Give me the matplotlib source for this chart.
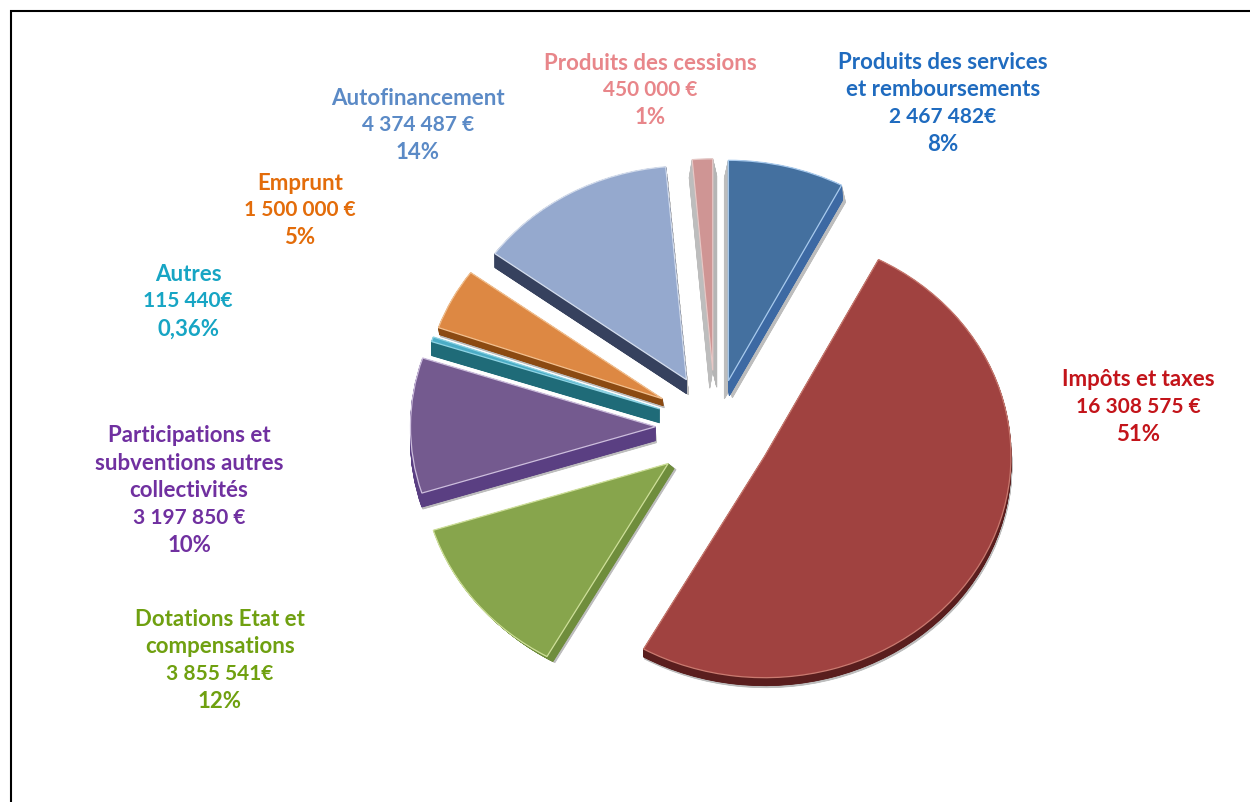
import matplotlib
matplotlib.use("Agg")
import matplotlib.pyplot as plt
from matplotlib.patches import Wedge

# Budget revenue breakdown, clockwise from twelve o'clock
categories = [
    ["Produits des services", "et remboursements"],
    ["Impôts et taxes"],
    ["Dotations Etat et", "compensations"],
    ["Participations et", "subventions autres", "collectivités"],
    ["Autres"],
    ["Emprunt"],
    ["Autofinancement"],
    ["Produits des cessions"],
]
values = [2467482, 16308575, 3855541, 3197850, 115440, 1500000, 4374487, 450000]
amount_labels = ["2 467 482€", "16 308 575 €", "3 855 541€", "3 197 850 €",
                 "115 440€", "1 500 000 €", "4 374 487 €", "450 000 €"]
percent_labels = ["8%", "51%", "12%", "10%", "0,36%", "5%", "14%", "1%"]

# Slice styling
face_colors = ["#44709F", "#A04240", "#87A54C", "#745A8F", "#4BACC6", "#DD8843", "#95A9CE", "#CF9594"]
edge_colors = ["#A9CBEE", "#C97A70", "#CFE09A", "#CDBEDD", "#8FD4E4", "#F3C08F", "#D5DEEE", "#E6C8C6"]
side_colors = ["#3D69A3", "#5A1E1E", "#6F8D3C", "#5A3F82", "#1F6B78", "#8B4A12", "#36415E", "#B5B5B5"]
text_colors = ["#1F6BBF", "#C3141A", "#6FA010", "#7030A0", "#17A5C4", "#E36C0A", "#5B8AC6", "#E8868A"]
pull_out = [54, 56, 61, 60, 59, 60, 59, 63]
lift = [4, 0, 3, 5, 6, 8, 6, 5]   # perspective raises the far slices by a few pixels
radius_scale = [0.98, 0.985, 0.985, 0.98, 0.96, 0.95, 0.95, 0.94]
side_offsets = [(1, 15), (0, 8), (6, 5), (0, 14), (0, 14), (1, 7), (0, 14), (4, 17)]
shadow_offsets = [[(-4, 18), (4, 17)], [(1, 10)], [(8, 6)], [(1, 16)], [], [(2, 9)], [(2, 15)], [(-3, 18)]]
stack_order = [6, 7, 2, 5, 4, 3, 1, 0]

# Label anchors: centre x and first-line y, in pixels from the top-left
label_x = [943, 1138, 220, 189, 188, 300, 418, 650]
label_y = [62, 380, 619, 436, 274, 183, 98, 63]
LINE_STEP = 27.4

WIDTH, HEIGHT = 1250, 803
SQUASH = 0.9           # vertical foreshortening of the disc
RADIUS = 250
PIE_X, PIE_Y = 715.5, 433


def to_y(py):
    return (HEIGHT - py) / SQUASH


fig = plt.figure(figsize=(WIDTH / 100, HEIGHT / 100), dpi=100, facecolor="white")
ax = fig.add_axes([0, 0, 1, 1])

wedges, _ = ax.pie(values, explode=pull_out, radius=RADIUS, center=(PIE_X, to_y(PIE_Y)),
                   startangle=90, counterclock=False, colors=face_colors)

for rank, i in enumerate(stack_order):
    w = wedges[i]
    w.set_radius(RADIUS * radius_scale[i])
    w.set_center((w.center[0], w.center[1] + lift[i] / SQUASH))
    w.set_edgecolor(edge_colors[i])
    w.set_linewidth(0.9)
    base = 10 + rank * 3
    w.set_zorder(base + 2)
    cx, cy = w.center

    def stacked(dx, dy, color, z):
        # Extrude the slice by stacking finely spaced copies of it
        steps = 3 * int(max(abs(dx), abs(dy), 1))
        for k in range(1, steps + 1):
            ax.add_patch(Wedge((cx + dx * k / steps, cy - dy * k / steps / SQUASH),
                               w.r, w.theta1, w.theta2,
                               facecolor=color, edgecolor=color, linewidth=0.6, zorder=z))

    for dx, dy in shadow_offsets[i]:
        stacked(dx, dy, "#BDBDBD", base)
    stacked(*side_offsets[i], side_colors[i], base + 1)

# Open frame: left and top rules run off the canvas
ax.plot([11, 11, WIDTH], [to_y(HEIGHT), to_y(12), to_y(12)], color="black", lw=1.5,
        solid_joinstyle="miter", zorder=50)

for i in range(len(values)):
    lines = categories[i] + [amount_labels[i], percent_labels[i]]
    for n, line in enumerate(lines):
        size = 15 if line == amount_labels[i] else 16
        ax.text(label_x[i], to_y(label_y[i] + n * LINE_STEP), line, ha="center", va="center",
                color=text_colors[i], fontsize=size, fontweight="bold", family="Lato", zorder=60)

ax.set_aspect("auto")
ax.set_xlim(0, WIDTH)
ax.set_ylim(0, HEIGHT / SQUASH)
ax.axis("off")
fig.savefig("out.png", dpi=100, facecolor="white")
